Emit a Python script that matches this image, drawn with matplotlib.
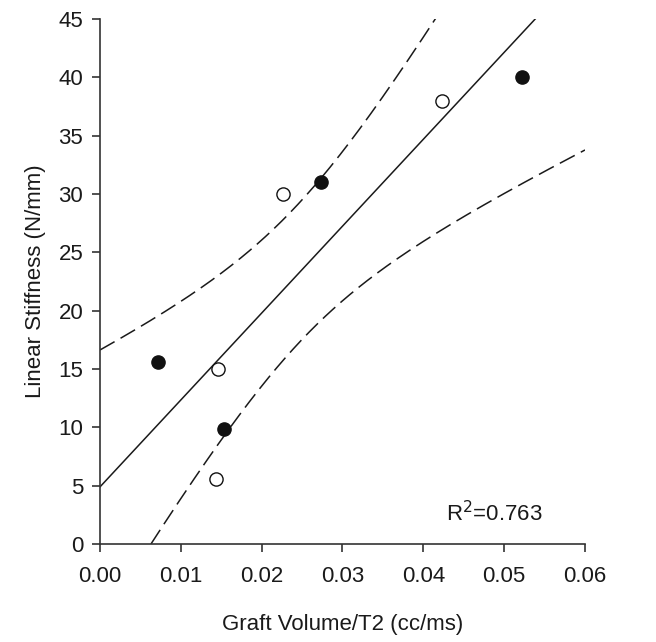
import numpy as np
import matplotlib.pyplot as plt

plt.rcParams['font.family'] = ['Liberation Sans', 'DejaVu Sans']

# data
filled_x = [0.0072, 0.0153, 0.0274, 0.0522]
filled_y = [15.6, 9.9, 31.0, 40.0]
open_x = [0.0226, 0.0423, 0.0146, 0.0143]
open_y = [30.0, 38.0, 15.0, 5.6]

x_ticks = [0.00, 0.01, 0.02, 0.03, 0.04, 0.05, 0.06]
y_ticks = [0, 5, 10, 15, 20, 25, 30, 35, 40, 45]
r2_label = 'R$^2$=0.763'

# linear fit with 95% confidence band for the mean
x_all = np.array(filled_x + open_x)
y_all = np.array(filled_y + open_y)
n = len(x_all)
slope, intercept = np.polyfit(x_all, y_all, 1)
resid = y_all - (slope * x_all + intercept)
s = np.sqrt(np.sum(resid ** 2) / (n - 2))
sxx = np.sum((x_all - x_all.mean()) ** 2)
t_crit = 2.4469  # t(0.975, df=6)

xs = np.linspace(0, 0.06, 300)
fit = slope * xs + intercept
half = t_crit * s * np.sqrt(1 / n + (xs - x_all.mean()) ** 2 / sxx)

fig = plt.figure(figsize=(6.56, 6.42), dpi=100)
ax = fig.add_axes([0.1524, 0.1526, 0.7394, 0.8178])

ax.plot(xs, fit, color='#1a1a1a', lw=1.1)
ax.plot(xs, fit + half, color='#1a1a1a', lw=1.1, dashes=(11, 4.5))
ax.plot(xs, fit - half, color='#1a1a1a', lw=1.1, dashes=(11, 4.5))

ax.plot(filled_x, filled_y, 'o', ms=9.5, mfc='#111111', mec='#111111', mew=1.0)
ax.plot(open_x, open_y, 'o', ms=9.5, mfc='white', mec='#111111', mew=1.0)

ax.text(0.0428, 2.6, r2_label, fontsize=16, va='center', ha='left', color='#1a1a1a')

ax.set_xlim(0, 0.06)
ax.set_ylim(0, 45)
ax.set_xticks(x_ticks)
ax.set_xticklabels(['%.2f' % v for v in x_ticks])
ax.set_yticks(y_ticks)

for side in ['top', 'right']:
    ax.spines[side].set_visible(False)
for side in ['left', 'bottom']:
    ax.spines[side].set_color('#333333')
    ax.spines[side].set_linewidth(1.2)

ax.tick_params(direction='out', length=6, width=1.2, colors='#333333',
               labelcolor='#1a1a1a', labelsize=16)
ax.tick_params(axis='x', pad=10)
ax.tick_params(axis='y', pad=6)

ax.set_xlabel('Graft Volume/T2 (cc/ms)', fontsize=16, color='#1a1a1a', labelpad=19)
ax.set_ylabel('Linear Stiffness (N/mm)', fontsize=16, color='#1a1a1a', labelpad=9)

fig.savefig('out.png', dpi=100)
